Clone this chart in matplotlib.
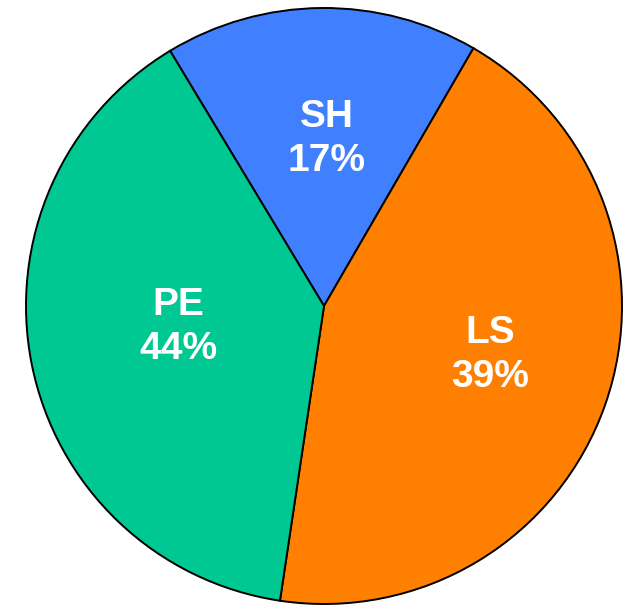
import matplotlib
matplotlib.use("Agg")
import matplotlib.pyplot as plt
import numpy as np

categories = ["SH", "LS", "PE"]
sizes = [17, 44, 39]            # slice sizes as drawn
label_pcts = [17, 39, 44]       # percentages printed on the slices
colors = ["#4080FF", "#FF7F00", "#00C893"]
label_pos = [(0.01, 0.56), (0.557, -0.165), (-0.49, -0.07)]

fig = plt.figure(figsize=(6.27, 6.05), dpi=100)
ax = fig.add_axes([26 / 627, 1 - 604 / 605, 596 / 627, 596 / 605])
wedges, _ = ax.pie(sizes, colors=colors, startangle=121.1, counterclock=False,
                   radius=1.0, center=(0, 0),
                   wedgeprops=dict(edgecolor="black", linewidth=1.4))
for cat, pct, (x, y) in zip(categories, label_pcts, label_pos):
    ax.text(x, y, f"{cat}\n{pct}%", ha="center", va="center", color="white",
            fontsize=28, fontweight="bold", family="Liberation Sans",
            linespacing=1.3)
ax.set_xlim(-1, 1)
ax.set_ylim(-1, 1)
ax.set_aspect("equal")
ax.axis("off")
fig.savefig("out.png", dpi=100)
